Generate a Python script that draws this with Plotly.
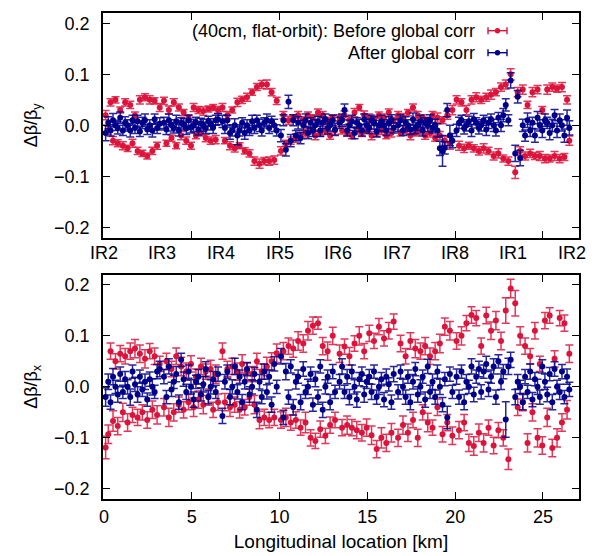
import plotly.graph_objects as go
from plotly.subplots import make_subplots

# BPM longitudinal positions [km] (shared by both planes)
bpm_km = [
    0.10, 0.25, 0.38, 0.52, 0.66, 0.79, 0.93, 1.08, 1.21, 1.35, 1.50, 1.63, 1.77, 1.92, 2.05, 2.19, 2.34, 2.47, 2.61, 2.76, 2.89, 3.03, 3.18,
    3.42, 3.56, 3.70, 3.85, 3.98, 4.12, 4.27, 4.40, 4.54, 4.69, 4.82, 4.96, 5.11, 5.24, 5.38, 5.53, 5.66, 5.80, 5.95, 6.08, 6.22, 6.37, 6.50,
    6.75, 6.89, 7.03, 7.18, 7.31, 7.45, 7.60, 7.73, 7.87, 8.02, 8.15, 8.29, 8.44, 8.57, 8.71, 8.86, 8.99, 9.13, 9.28, 9.41, 9.55, 9.70, 9.84,
    10.08, 10.22, 10.36, 10.51, 10.64, 10.78, 10.93, 11.06, 11.20, 11.35, 11.48, 11.62, 11.77, 11.90, 12.04, 12.19, 12.32, 12.46, 12.61, 12.74, 12.88, 13.03, 13.16,
    13.42, 13.56, 13.70, 13.85, 13.98, 14.12, 14.27, 14.40, 14.54, 14.69, 14.82, 14.96, 15.11, 15.24, 15.38, 15.53, 15.66, 15.80, 15.95, 16.08, 16.22, 16.37, 16.50,
    16.75, 16.89, 17.03, 17.18, 17.31, 17.45, 17.60, 17.73, 17.87, 18.02, 18.15, 18.29, 18.44, 18.57, 18.71, 18.86, 18.99, 19.13, 19.28, 19.41, 19.55, 19.70, 19.84,
    20.08, 20.22, 20.36, 20.51, 20.64, 20.78, 20.93, 21.06, 21.20, 21.35, 21.48, 21.62, 21.77, 21.90, 22.04, 22.19, 22.32, 22.46, 22.61, 22.74, 22.88, 23.03, 23.16,
    23.42, 23.56, 23.70, 23.85, 23.98, 24.12, 24.27, 24.40, 24.54, 24.69, 24.82, 24.96, 25.11, 25.24, 25.38, 25.53, 25.66, 25.80, 25.95, 26.08, 26.22, 26.37, 26.50,
]

# Vertical plane (top panel)
beat_y_before = [
    0.02, -0.01, 0.045, -0.03, 0.05, -0.035, 0.03, -0.04, 0.045, -0.045, 0.04, -0.035, 0.02, -0.05, 0.05, -0.055, 0.055, -0.06, 0.05, -0.05, 0.048, -0.04, 0.035,
    0.048, -0.035, 0.03, -0.025, 0.045, -0.04, 0.035, -0.02, 0.025, -0.03, 0.015, -0.04, 0.035, -0.02, 0.03, -0.015, 0.028, -0.025, 0.032, -0.03, 0.035, -0.028, 0.03,
    0.035, -0.03, 0.02, -0.04, 0.03, -0.045, 0.045, -0.04, 0.05, -0.05, 0.055, -0.055, 0.065, -0.07, 0.075, -0.075, 0.08, -0.07, 0.08, -0.07, 0.065, -0.068, 0.048,
    -0.05, 0.02, -0.035, 0.01, -0.03, 0.015, -0.025, 0.02, -0.02, 0.01, -0.015, 0.02, -0.01, 0.015, -0.02, 0.025, -0.015, 0.02, -0.01, 0.01, -0.02, 0.015, -0.01,
    0.015, -0.01, 0.02, -0.015, 0.01, -0.02, 0.025, -0.01, 0.035, -0.015, 0.02, -0.01, 0.015, -0.02, 0.01, -0.015, 0.02, -0.01, 0.015, -0.02, 0.025, -0.015, 0.01,
    0.02, -0.015, 0.015, -0.01, 0.025, -0.02, 0.035, -0.015, 0.02, -0.01, 0.015, -0.02, 0.01, -0.015, 0.02, -0.025, 0.015, -0.02, 0.01, -0.03, 0.02, -0.035, 0.03,
    0.05, -0.04, 0.045, -0.045, 0.03, -0.04, 0.05, -0.045, 0.055, -0.05, 0.05, -0.045, 0.055, -0.05, 0.06, -0.06, 0.065, -0.055, 0.075, -0.065, 0.08, -0.07, 0.1,
    -0.092, 0.065, -0.05, 0.07, -0.06, 0.04, -0.055, 0.065, -0.06, 0.07, -0.06, 0.03, -0.065, 0.07, -0.065, 0.075, -0.06, 0.072, -0.065, 0.075, -0.062, 0.05, -0.03,
]
err_y_before = [
    0.009, 0.008, 0.007, 0.008, 0.006, 0.007, 0.006, 0.008, 0.007, 0.006, 0.007, 0.008, 0.006, 0.007, 0.008, 0.006, 0.007, 0.006, 0.008, 0.007, 0.006, 0.007, 0.008,
    0.007, 0.006, 0.008, 0.006, 0.007, 0.006, 0.007, 0.008, 0.006, 0.007, 0.006, 0.007, 0.008, 0.006, 0.007, 0.006, 0.008, 0.007, 0.006, 0.007, 0.006, 0.008, 0.007,
    0.008, 0.006, 0.007, 0.008, 0.006, 0.007, 0.008, 0.006, 0.007, 0.006, 0.008, 0.007, 0.006, 0.008, 0.007, 0.009, 0.008, 0.007, 0.009, 0.008, 0.007, 0.008, 0.007,
    0.008, 0.007, 0.006, 0.008, 0.007, 0.006, 0.008, 0.007, 0.006, 0.007, 0.008, 0.006, 0.007, 0.006, 0.008, 0.007, 0.006, 0.007, 0.008, 0.006, 0.007, 0.006, 0.008,
    0.006, 0.007, 0.008, 0.006, 0.007, 0.006, 0.008, 0.007, 0.006, 0.007, 0.008, 0.006, 0.007, 0.008, 0.006, 0.007, 0.006, 0.008, 0.007, 0.006, 0.007, 0.008, 0.006,
    0.007, 0.006, 0.008, 0.007, 0.006, 0.008, 0.007, 0.006, 0.007, 0.008, 0.006, 0.007, 0.006, 0.008, 0.007, 0.006, 0.009, 0.008, 0.007, 0.009, 0.008, 0.012, 0.009,
    0.008, 0.009, 0.007, 0.008, 0.009, 0.007, 0.008, 0.007, 0.009, 0.008, 0.007, 0.009, 0.008, 0.007, 0.009, 0.008, 0.007, 0.009, 0.008, 0.007, 0.009, 0.008, 0.011,
    0.012, 0.009, 0.008, 0.009, 0.008, 0.007, 0.008, 0.009, 0.007, 0.008, 0.009, 0.007, 0.008, 0.009, 0.007, 0.008, 0.009, 0.007, 0.008, 0.009, 0.007, 0.008, 0.009,
]
beat_y_after = [
    -0.015, 0.005, -0.01, 0.01, 0.0, -0.005, 0.015, -0.01, 0.005, 0.0, -0.01, 0.01, -0.005, 0.008, -0.012, 0.005, 0.01, -0.008, 0.0, -0.01, 0.012, -0.005, 0.003,
    0.005, -0.008, 0.01, 0.0, -0.005, 0.008, -0.01, 0.005, 0.002, -0.006, 0.01, -0.004, 0.0, 0.006, -0.008, 0.004, 0.0, -0.005, 0.008, 0.002, -0.004, 0.01, 0.012,
    0.008, -0.005, 0.01, -0.015, -0.01, 0.0, -0.02, -0.01, 0.005, -0.015, 0.0, -0.01, 0.008, -0.005, 0.01, 0.0, -0.01, 0.005, 0.01, -0.005, 0.008, 0.0, -0.01,
    -0.02, 0.01, -0.048, 0.046, -0.03, 0.01, -0.02, 0.005, -0.025, 0.0, 0.01, -0.015, 0.005, -0.01, 0.0, 0.008, -0.01, 0.005, 0.012, -0.005, 0.0, 0.01, -0.008,
    0.005, 0.01, 0.03, -0.01, 0.0, 0.008, -0.015, 0.005, 0.0, -0.01, 0.012, 0.0, -0.005, 0.01, 0.005, -0.012, 0.0, 0.008, 0.0, -0.01, 0.005, 0.01, -0.005,
    0.0, 0.01, -0.01, 0.005, 0.0, -0.008, 0.012, -0.005, 0.0, 0.008, -0.01, 0.005, 0.0, 0.01, -0.005, 0.0, -0.01, -0.045, -0.05, -0.044, 0.03, -0.02, -0.03,
    -0.01, 0.005, 0.01, -0.005, 0.0, 0.008, -0.01, 0.012, 0.005, -0.005, 0.0, 0.01, -0.008, 0.005, 0.012, 0.0, -0.01, 0.015, 0.0, 0.02, 0.04, 0.01, 0.088,
    -0.055, 0.056, -0.064, 0.0, -0.02, 0.01, -0.01, 0.005, -0.02, 0.015, 0.0, -0.01, 0.01, 0.005, -0.015, 0.0, 0.02, -0.01, 0.01, 0.0, -0.02, 0.015, -0.005,
]
err_y_after = [
    0.015, 0.012, 0.011, 0.013, 0.01, 0.012, 0.011, 0.01, 0.012, 0.011, 0.013, 0.01, 0.011, 0.012, 0.01, 0.011, 0.012, 0.01, 0.011, 0.013, 0.01, 0.011, 0.012,
    0.011, 0.01, 0.012, 0.011, 0.01, 0.012, 0.011, 0.01, 0.011, 0.012, 0.01, 0.011, 0.012, 0.01, 0.011, 0.01, 0.012, 0.011, 0.01, 0.011, 0.012, 0.01, 0.011,
    0.012, 0.011, 0.01, 0.012, 0.011, 0.013, 0.018, 0.011, 0.01, 0.012, 0.011, 0.01, 0.012, 0.011, 0.01, 0.012, 0.011, 0.01, 0.012, 0.011, 0.01, 0.012, 0.011,
    0.012, 0.011, 0.012, 0.013, 0.012, 0.011, 0.01, 0.012, 0.011, 0.01, 0.012, 0.011, 0.01, 0.012, 0.011, 0.01, 0.012, 0.011, 0.01, 0.012, 0.011, 0.01, 0.012,
    0.011, 0.012, 0.012, 0.011, 0.01, 0.012, 0.011, 0.01, 0.012, 0.011, 0.01, 0.012, 0.011, 0.01, 0.012, 0.011, 0.01, 0.012, 0.011, 0.01, 0.012, 0.011, 0.01,
    0.012, 0.011, 0.01, 0.012, 0.011, 0.01, 0.012, 0.011, 0.01, 0.012, 0.011, 0.01, 0.012, 0.011, 0.01, 0.012, 0.013, 0.014, 0.03, 0.012, 0.013, 0.02, 0.014,
    0.012, 0.011, 0.01, 0.012, 0.011, 0.01, 0.012, 0.011, 0.01, 0.012, 0.011, 0.01, 0.012, 0.011, 0.01, 0.012, 0.011, 0.01, 0.012, 0.013, 0.012, 0.011, 0.015,
    0.016, 0.012, 0.015, 0.012, 0.011, 0.014, 0.012, 0.011, 0.013, 0.012, 0.011, 0.014, 0.012, 0.011, 0.013, 0.012, 0.011, 0.014, 0.012, 0.011, 0.013, 0.015, 0.014,
]

# Horizontal plane (bottom panel)
beat_x_before = [
    -0.119, -0.093, 0.07, -0.067, 0.05, -0.077, 0.065, -0.05, 0.06, -0.07, 0.07, -0.055, 0.075, -0.06, 0.065, -0.05, 0.055, -0.065, 0.07, -0.045, 0.06, -0.055, 0.045,
    -0.04, 0.05, -0.06, 0.035, -0.05, 0.06, -0.035, 0.04, -0.045, 0.03, -0.03, 0.045, -0.04, 0.02, -0.025, 0.04, -0.035, 0.03, -0.02, 0.035, -0.045, 0.025, -0.03,
    0.07, -0.03, 0.035, -0.04, 0.04, -0.035, 0.03, -0.045, 0.045, -0.04, 0.03, -0.02, 0.025, -0.035, 0.05, -0.065, 0.03, -0.06, 0.04, -0.065, 0.05, -0.06, 0.066,
    -0.065, 0.07, -0.06, 0.08, -0.07, 0.075, -0.065, 0.09, -0.08, 0.085, -0.07, 0.11, -0.1, 0.12, -0.106, 0.125, -0.083, 0.08, -0.096, 0.07, -0.075, 0.1, -0.065,
    0.065, -0.08, 0.079, -0.075, 0.06, -0.08, 0.085, -0.085, 0.1, -0.09, 0.07, -0.08, 0.105, -0.095, 0.09, -0.122, 0.118, -0.1, 0.095, -0.11, 0.11, -0.09, 0.128,
    -0.1, 0.085, -0.075, 0.06, -0.09, 0.09, -0.065, 0.075, -0.1, 0.07, -0.05, 0.08, -0.07, 0.06, -0.08, 0.07, -0.04, 0.085, -0.093, 0.118, -0.07, 0.11, -0.096,
    0.09, -0.085, 0.1, -0.07, 0.125, -0.11, 0.141, -0.116, 0.135, -0.09, 0.08, -0.11, 0.14, -0.08, 0.11, -0.115, 0.13, -0.085, 0.09, -0.1, 0.15, -0.142, 0.193,
    0.164, -0.04, 0.1, -0.03, 0.08, -0.11, 0.06, -0.05, 0.11, -0.1, 0.045, -0.115, 0.13, -0.06, 0.14, -0.12, 0.055, -0.1, 0.135, -0.07, 0.125, -0.045, 0.065,
]
err_x_before = [
    0.022, 0.018, 0.016, 0.02, 0.015, 0.017, 0.016, 0.018, 0.015, 0.017, 0.016, 0.015, 0.018, 0.016, 0.017, 0.015, 0.018, 0.016, 0.015, 0.017, 0.016, 0.018, 0.015,
    0.017, 0.016, 0.018, 0.015, 0.017, 0.016, 0.015, 0.018, 0.016, 0.017, 0.015, 0.016, 0.018, 0.015, 0.017, 0.016, 0.018, 0.015, 0.016, 0.017, 0.015, 0.018, 0.016,
    0.016, 0.017, 0.015, 0.018, 0.016, 0.015, 0.017, 0.016, 0.018, 0.015, 0.017, 0.016, 0.015, 0.018, 0.016, 0.017, 0.015, 0.016, 0.018, 0.015, 0.017, 0.016, 0.018,
    0.016, 0.017, 0.018, 0.016, 0.015, 0.017, 0.016, 0.018, 0.015, 0.017, 0.02, 0.018, 0.016, 0.017, 0.015, 0.012, 0.016, 0.017, 0.015, 0.018, 0.016, 0.017, 0.015,
    0.017, 0.016, 0.015, 0.018, 0.017, 0.016, 0.015, 0.017, 0.018, 0.016, 0.015, 0.017, 0.016, 0.018, 0.015, 0.017, 0.016, 0.02, 0.015, 0.017, 0.016, 0.018, 0.015,
    0.017, 0.016, 0.018, 0.015, 0.017, 0.016, 0.015, 0.018, 0.017, 0.016, 0.015, 0.017, 0.018, 0.016, 0.015, 0.017, 0.016, 0.018, 0.015, 0.017, 0.016, 0.018, 0.017,
    0.016, 0.017, 0.018, 0.016, 0.015, 0.017, 0.016, 0.018, 0.015, 0.017, 0.016, 0.018, 0.016, 0.015, 0.017, 0.016, 0.018, 0.015, 0.017, 0.016, 0.025, 0.02, 0.018,
    0.025, 0.016, 0.018, 0.017, 0.016, 0.018, 0.015, 0.017, 0.016, 0.018, 0.015, 0.017, 0.016, 0.018, 0.015, 0.017, 0.016, 0.018, 0.015, 0.017, 0.016, 0.018, 0.017,
]
beat_x_after = [
    -0.02, 0.01, -0.03, 0.02, 0.0, -0.015, 0.025, -0.01, 0.015, 0.0, -0.02, 0.03, 0.005, -0.015, 0.02, -0.005, 0.01, -0.025, 0.015, 0.0, -0.01, 0.03, 0.035,
    0.02, -0.02, 0.04, -0.005, 0.01, 0.025, -0.03, 0.053, 0.015, -0.01, 0.03, 0.0, -0.025, 0.01, 0.02, -0.015, 0.005, 0.035, -0.02, 0.0, 0.015, -0.01, 0.025,
    -0.057, 0.01, 0.03, -0.02, 0.0, 0.04, -0.01, 0.02, -0.03, 0.01, 0.035, -0.015, 0.0, 0.025, -0.045, 0.01, -0.02, 0.03, -0.01, 0.02, -0.035, 0.045, 0.0,
    0.06, -0.06, 0.03, -0.02, 0.04, -0.04, 0.01, 0.02, -0.03, 0.035, -0.01, 0.0, 0.025, -0.035, 0.015, -0.02, 0.04, -0.045, 0.0, 0.02, -0.03, 0.03, -0.01,
    0.01, 0.04, -0.01, 0.02, -0.02, 0.03, 0.0, -0.025, 0.015, 0.025, -0.015, 0.01, 0.02, -0.01, 0.03, -0.02, 0.0, 0.015, -0.025, 0.02, 0.005, -0.03, 0.025,
    -0.01, 0.03, 0.0, -0.02, 0.02, -0.03, 0.01, 0.035, -0.015, 0.0, 0.02, -0.025, 0.04, -0.01, 0.01, -0.02, 0.03, 0.0, -0.035, 0.015, -0.06, 0.025, -0.01,
    0.02, -0.02, 0.03, -0.03, 0.01, 0.0, 0.04, -0.015, 0.02, 0.035, -0.01, 0.03, 0.045, -0.005, 0.02, 0.04, -0.02, 0.05, 0.01, 0.03, -0.064, 0.04, 0.053,
    -0.02, 0.01, 0.0, -0.03, 0.02, -0.01, 0.03, -0.025, 0.015, 0.0, -0.02, 0.04, 0.01, -0.015, 0.025, -0.03, 0.035, 0.0, -0.01, 0.03, -0.02, 0.02, -0.005,
]
err_x_after = [
    0.018, 0.015, 0.014, 0.016, 0.013, 0.015, 0.014, 0.013, 0.015, 0.014, 0.016, 0.013, 0.014, 0.015, 0.013, 0.014, 0.015, 0.013, 0.014, 0.016, 0.013, 0.014, 0.015,
    0.014, 0.013, 0.015, 0.014, 0.013, 0.015, 0.014, 0.013, 0.014, 0.015, 0.013, 0.014, 0.015, 0.013, 0.014, 0.013, 0.015, 0.014, 0.013, 0.014, 0.015, 0.013, 0.014,
    0.015, 0.014, 0.013, 0.015, 0.014, 0.016, 0.014, 0.013, 0.015, 0.014, 0.013, 0.015, 0.014, 0.013, 0.015, 0.014, 0.013, 0.015, 0.014, 0.013, 0.015, 0.014, 0.013,
    0.015, 0.014, 0.016, 0.014, 0.013, 0.015, 0.014, 0.013, 0.015, 0.014, 0.013, 0.015, 0.014, 0.013, 0.015, 0.014, 0.013, 0.015, 0.014, 0.013, 0.015, 0.014, 0.013,
    0.014, 0.015, 0.013, 0.014, 0.015, 0.013, 0.014, 0.015, 0.013, 0.014, 0.015, 0.013, 0.014, 0.015, 0.013, 0.014, 0.015, 0.013, 0.014, 0.015, 0.013, 0.014, 0.015,
    0.014, 0.013, 0.015, 0.014, 0.013, 0.015, 0.014, 0.013, 0.015, 0.014, 0.013, 0.015, 0.014, 0.013, 0.015, 0.014, 0.013, 0.015, 0.014, 0.013, 0.022, 0.014, 0.013,
    0.015, 0.014, 0.013, 0.015, 0.014, 0.013, 0.015, 0.014, 0.013, 0.015, 0.014, 0.013, 0.015, 0.014, 0.013, 0.015, 0.014, 0.013, 0.015, 0.014, 0.035, 0.016, 0.015,
    0.015, 0.014, 0.013, 0.015, 0.014, 0.013, 0.015, 0.014, 0.013, 0.015, 0.014, 0.013, 0.015, 0.014, 0.013, 0.015, 0.014, 0.013, 0.015, 0.014, 0.013, 0.015, 0.014,
]

# Interaction regions along the ring [km] and their labels
ir_km = [0.0, 3.33, 6.66, 10.0, 13.33, 16.66, 19.99, 23.32, 26.66]
ir_labels = ["IR2", "IR3", "IR4", "IR5", "IR6", "IR7", "IR8", "IR1", "IR2"]
km_ticks = [0, 5, 10, 15, 20, 25]
beat_ticks = [-0.2, -0.1, 0.0, 0.1, 0.2]

series_names = ["(40cm, flat-orbit): Before global corr", "After global corr"]
RED = "#dc143c"
BLUE = "#00008b"
RED_ERR = "rgba(220,20,60,0.85)"
BLUE_ERR = "rgba(0,0,139,0.85)"
FONT = "Liberation Sans, Arial, sans-serif"
TICK_SIZE = 18

fig = make_subplots(rows=2, cols=1, vertical_spacing=0.0)


def add_series(y, err, color, ecolor, name, row):
    fig.add_trace(
        go.Scatter(
            x=bpm_km, y=y, mode="markers", name=name, showlegend=False,
            marker=dict(color=color, size=6, line=dict(width=0)),
            error_y=dict(type="data", array=err, visible=True, color=ecolor,
                         thickness=1.5, width=4),
        ),
        row=row, col=1,
    )


add_series(beat_y_before, err_y_before, RED, RED_ERR, series_names[0], 1)
add_series(beat_y_after, err_y_after, BLUE, BLUE_ERR, series_names[1], 1)
add_series(beat_x_before, err_x_before, RED, RED_ERR, series_names[0], 2)
add_series(beat_x_after, err_x_after, BLUE, BLUE_ERR, series_names[1], 2)

W, H = 595, 556
ML, MR, MT, MB = 103, 16, 13, 57
PW, PH = W - ML - MR, H - MT - MB

axis_common = dict(
    showgrid=False, zeroline=False, showline=True, linecolor="black", linewidth=1.6,
    mirror="allticks", ticks="inside", ticklen=7, tickwidth=1, tickcolor="black",
    automargin=False,
    tickfont=dict(family=FONT, size=TICK_SIZE, color="black"),
)

fig.update_layout(
    template="none",
    width=W, height=H, margin=dict(l=ML, r=MR, t=MT, b=MB, autoexpand=False),
    paper_bgcolor="white", plot_bgcolor="white", showlegend=False,
    font=dict(family=FONT, size=TICK_SIZE, color="black"),
)

# top panel (vertical plane): tick marks every 5 km, IR names as labels
fig.update_xaxes(
    **axis_common, range=[-0.05, 27.05], tickmode="array", tickvals=km_ticks,
    showticklabels=False, domain=[0, 1], row=1, col=1,
)
fig.update_yaxes(
    **axis_common, range=[-0.22, 0.22], tickmode="array", tickvals=beat_ticks,
    tickformat=".1f", ticklabelstandoff=8,
    domain=[1 - 224.7 / PH, 1.0],
    title=dict(text="Δβ/β<sub>y</sub>", font=dict(family=FONT, size=18), standoff=12),
    row=1, col=1,
)
# bottom panel (horizontal plane)
fig.update_xaxes(
    **axis_common, range=[-0.05, 27.05], tickmode="array", tickvals=km_ticks,
    ticklabelstandoff=1,
    title=dict(text="Longitudinal location [km]", font=dict(family=FONT, size=19), standoff=8),
    domain=[0, 1], row=2, col=1,
)
fig.update_yaxes(
    **axis_common, range=[-0.22, 0.22], tickmode="array", tickvals=beat_ticks,
    tickformat=".1f", ticklabelstandoff=8,
    domain=[0.0, 224.3 / PH],
    title=dict(text="Δβ/β<sub>x</sub>", font=dict(family=FONT, size=18), standoff=12),
    row=2, col=1,
)


def px_x(p):
    return (p - ML) / PW


def px_y(p):
    return (H - MB - p) / PH


# IR labels under the upper panel
for xv, lab in zip(ir_km, ir_labels):
    fig.add_annotation(
        xref="x", yref="paper", x=xv, y=px_y(253), text=lab, showarrow=False,
        xanchor="center", yanchor="middle",
        font=dict(family=FONT, size=TICK_SIZE, color="black"),
    )

# legend drawn as text + error-bar samples at the top right of the upper panel
legend_rows = [(series_names[0], RED, 30.7), (series_names[1], BLUE, 52.7)]
for text, color, py in legend_rows:
    fig.add_annotation(
        xref="paper", yref="paper", x=px_x(477), y=px_y(py), text=text,
        showarrow=False, xanchor="right", yanchor="middle",
        font=dict(family=FONT, size=18, color="black"),
    )
    fig.add_shape(type="line", xref="paper", yref="paper",
                  x0=px_x(488), x1=px_x(507), y0=px_y(py), y1=px_y(py),
                  line=dict(color=color, width=1.4))
    for cx in (488, 507):
        fig.add_shape(type="line", xref="paper", yref="paper",
                      x0=px_x(cx), x1=px_x(cx), y0=px_y(py - 3.5), y1=px_y(py + 3.5),
                      line=dict(color=color, width=1.4))
    fig.add_shape(type="circle", xref="paper", yref="paper",
                  x0=px_x(497.5 - 2.7), x1=px_x(497.5 + 2.7),
                  y0=px_y(py + 2.7), y1=px_y(py - 2.7),
                  fillcolor=color, line=dict(width=0))

fig.write_html(
    "out.html",
    config={"displayModeBar": False},
    post_script="document.body.style.margin='0';document.body.style.overflow='hidden';",
)
